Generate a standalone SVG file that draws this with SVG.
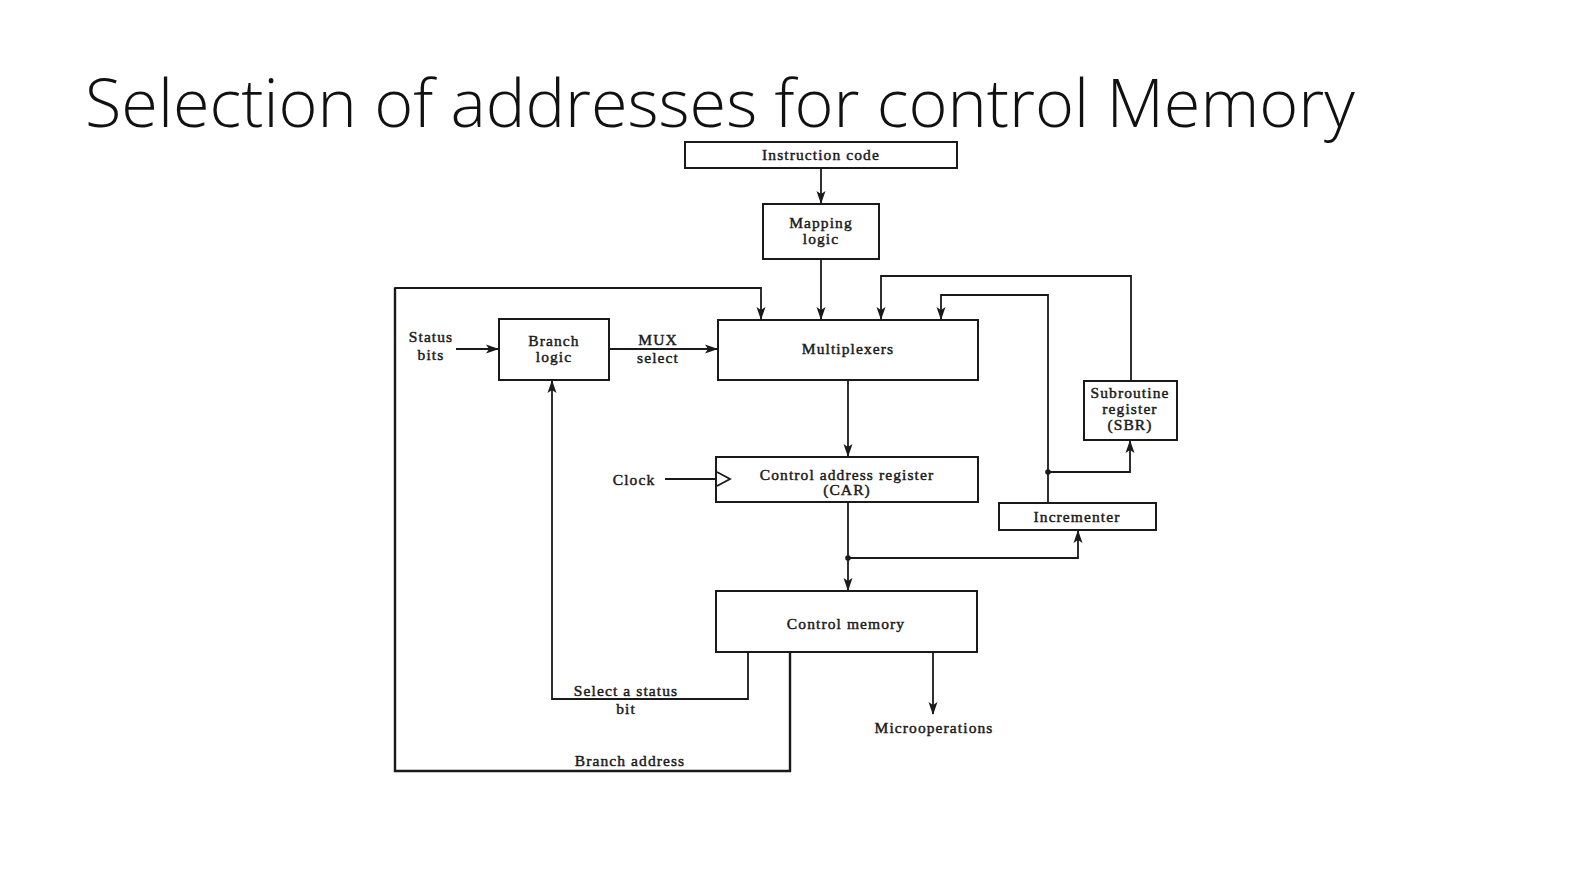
<svg xmlns="http://www.w3.org/2000/svg" width="1574" height="874" viewBox="0 0 1574 874">
<defs>
<marker id="arr" markerWidth="13" markerHeight="10" refX="12" refY="5" orient="auto" markerUnits="userSpaceOnUse" viewBox="0 0 13 10">
<path d="M0,0.5 L13,5 L0,9.5 L3,5 Z" fill="#1a1a1a"/>
</marker>
<style>
.box{fill:#fff;stroke:#1a1a1a;stroke-width:2}
.ln{fill:none;stroke:#1a1a1a;stroke-width:1.8}
.la{fill:none;stroke:#1a1a1a;stroke-width:1.8;marker-end:url(#arr)}
.t{font-family:"Liberation Serif","Times New Roman",serif;font-size:15.5px;letter-spacing:1.1px;fill:#1a1a1a;text-anchor:middle;stroke:#1a1a1a;stroke-width:0.45}
.title{font-family:"Open Sans",Calibri,sans-serif;font-weight:300;font-size:66.6px;fill:#111}
</style>
</defs>
<rect width="1574" height="874" fill="#fff"/>
<text class="title" x="85" y="127">Selection of addresses for control Memory</text>

<g id="connectors">
<path class="la" d="M821,169 V203"/>
<path class="la" d="M821,260 V319"/>
<path class="la" d="M394.5,288 H761 V319"/>
<path class="la" d="M1131,381 V276 H881 V319"/>
<path class="la" d="M1048,503 V295 H941 V319"/>
<path class="la" d="M1048,472 H1130 V441"/>
<path class="la" d="M456,349 H498"/>
<path class="la" d="M609,349 H717"/>
<path class="la" d="M848,381 V456"/>
<path class="ln" d="M665,479 H716"/>
<path class="la" d="M848,503 V590"/>
<path class="la" d="M848,558 H1078 V531"/>
<circle cx="848" cy="558" r="2.8" fill="#1a1a1a"/>
<circle cx="1048" cy="472" r="2.8" fill="#1a1a1a"/>
<path class="la" d="M748,653 V699 H552 V381"/>
<path class="la" d="M933,653 V714"/>
<path class="ln" style="stroke-width:2.4" d="M790,653 V771 H395 V287.5"/>
</g>

<g id="instruction-code"><rect class="box" x="685" y="142" width="272" height="26"/><text class="t" x="821" y="160">Instruction code</text></g>
<g id="mapping-logic"><rect class="box" x="763" y="204" width="116" height="55"/><text class="t" x="821" y="228">Mapping</text><text class="t" x="821" y="244">logic</text></g>
<g id="multiplexers"><rect class="box" x="718" y="320" width="260" height="60"/><text class="t" x="848" y="354">Multiplexers</text></g>
<g id="branch-logic"><rect class="box" x="499" y="319" width="110" height="61"/><text class="t" x="554" y="346">Branch</text><text class="t" x="554" y="362">logic</text></g>
<g id="sbr"><rect class="box" x="1084" y="381" width="93" height="59"/><text class="t" x="1130" y="398">Subroutine</text><text class="t" x="1130" y="414">register</text><text class="t" x="1130" y="430">(SBR)</text></g>
<g id="car"><rect class="box" x="716" y="457" width="262" height="45"/><path class="ln" d="M717,472 L730,479 L717,486"/><text class="t" x="847" y="480">Control address register</text><text class="t" x="847" y="495">(CAR)</text></g>
<g id="incrementer"><rect class="box" x="999" y="503" width="157" height="27"/><text class="t" x="1077" y="522">Incrementer</text></g>
<g id="control-memory"><rect class="box" x="716" y="591" width="261" height="61"/><text class="t" x="846" y="629">Control memory</text></g>

<g id="labels">
<text class="t" x="431" y="342">Status</text>
<text class="t" x="431" y="360">bits</text>
<text class="t" x="658" y="345">MUX</text>
<text class="t" x="658" y="363">select</text>
<text class="t" x="634" y="485">Clock</text>
<text class="t" x="626" y="696">Select a status</text>
<text class="t" x="626" y="714">bit</text>
<text class="t" x="934" y="733">Microoperations</text>
<text class="t" x="630" y="766">Branch address</text>
</g>
</svg>
